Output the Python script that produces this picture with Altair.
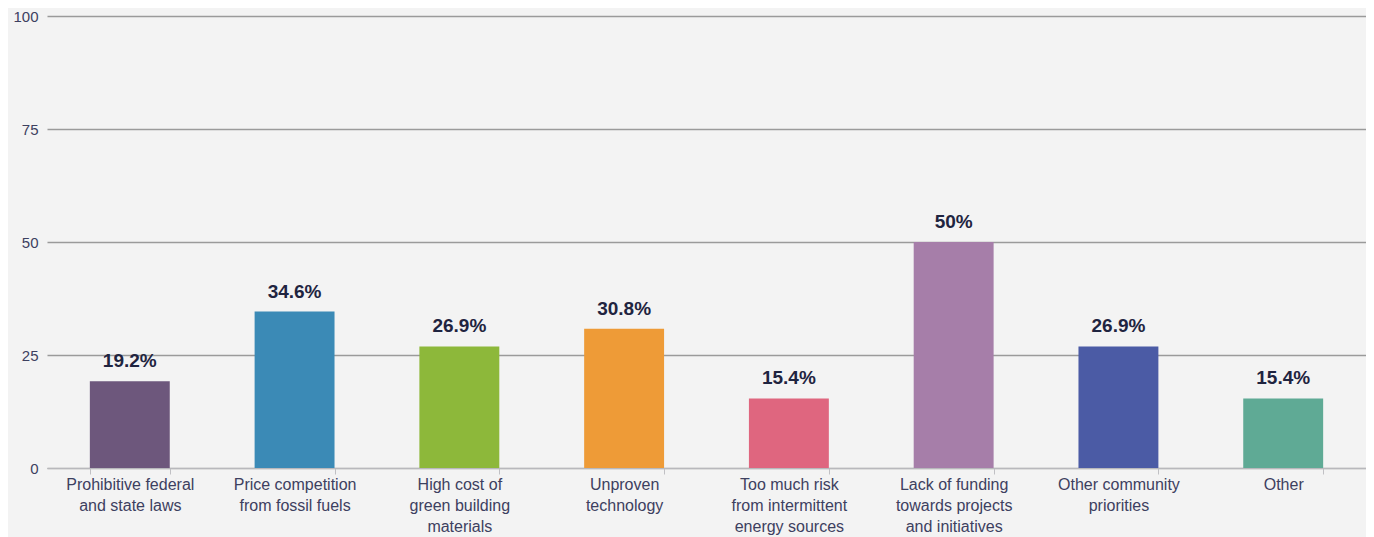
import altair as alt
import pandas as pd

categories = [
    "Prohibitive federal|and state laws",
    "Price competition|from fossil fuels",
    "High cost of|green building|materials",
    "Unproven|technology",
    "Too much risk|from intermittent|energy sources",
    "Lack of funding|towards projects|and initiatives",
    "Other community|priorities",
    "Other",
]
values = [19.2, 34.6, 26.9, 30.8, 15.4, 50, 26.9, 15.4]
labels = ["19.2%", "34.6%", "26.9%", "30.8%", "15.4%", "50%", "26.9%", "15.4%"]
colors = ["#6d577c", "#3b8ab6", "#8db83a", "#ee9b37", "#df667f", "#a67ea9", "#4b5ba5", "#5faa95"]

df = pd.DataFrame({"cat": categories, "value": values, "label": labels})

FONT = "Liberation Sans"

x = alt.X(
    "cat:N",
    sort=categories,
    scale=alt.Scale(paddingInner=0.515, paddingOuter=0.26),
    axis=alt.Axis(
        title=None,
        labelAngle=0,
        labelExpr="split(datum.label, '|')",
        labelFont=FONT,
        labelFontSize=16,
        labelColor="#3d4060",
        labelLineHeight=21,
        labelPadding=2,
        labelBaseline="top",
        labelLimit=200,
        domain=True,
        domainColor="#b8b8bc",
        ticks=True,
        tickBand="extent",
        tickColor="#c0c0c4",
        tickSize=6,
        grid=False,
    ),
)

y = alt.Y(
    "value:Q",
    scale=alt.Scale(domain=[0, 100]),
    axis=alt.Axis(
        title=None,
        values=[0, 25, 50, 75, 100],
        labelFont=FONT,
        labelFontSize=15,
        labelColor="#3d4060",
        labelPadding=9,
        ticks=False,
        domain=False,
        grid=True,
        gridColor="#9a9a9a",
        gridWidth=1.3,
    ),
)

bars = alt.Chart(df).mark_bar().encode(
    x=x,
    y=y,
    color=alt.Color("cat:N", sort=categories, scale=alt.Scale(domain=categories, range=colors), legend=None),
)

text = alt.Chart(df).mark_text(
    baseline="bottom", dy=-10, font=FONT, fontSize=19, fontWeight="bold", color="#1f2440"
).encode(x=alt.X("cat:N", sort=categories), y="value:Q", text="label:N")

chart = (
    alt.layer(bars, text)
    .properties(
        width=1319,
        height=452,
        background="#f3f3f3",
        padding={"left": 39, "top": 8, "right": 0, "bottom": 69},
        autosize=alt.AutoSizeParams(type="none"),
    )
    .configure_view(stroke=None)
)

chart.save("out.html", embed_options={"renderer": "svg", "actions": False})
